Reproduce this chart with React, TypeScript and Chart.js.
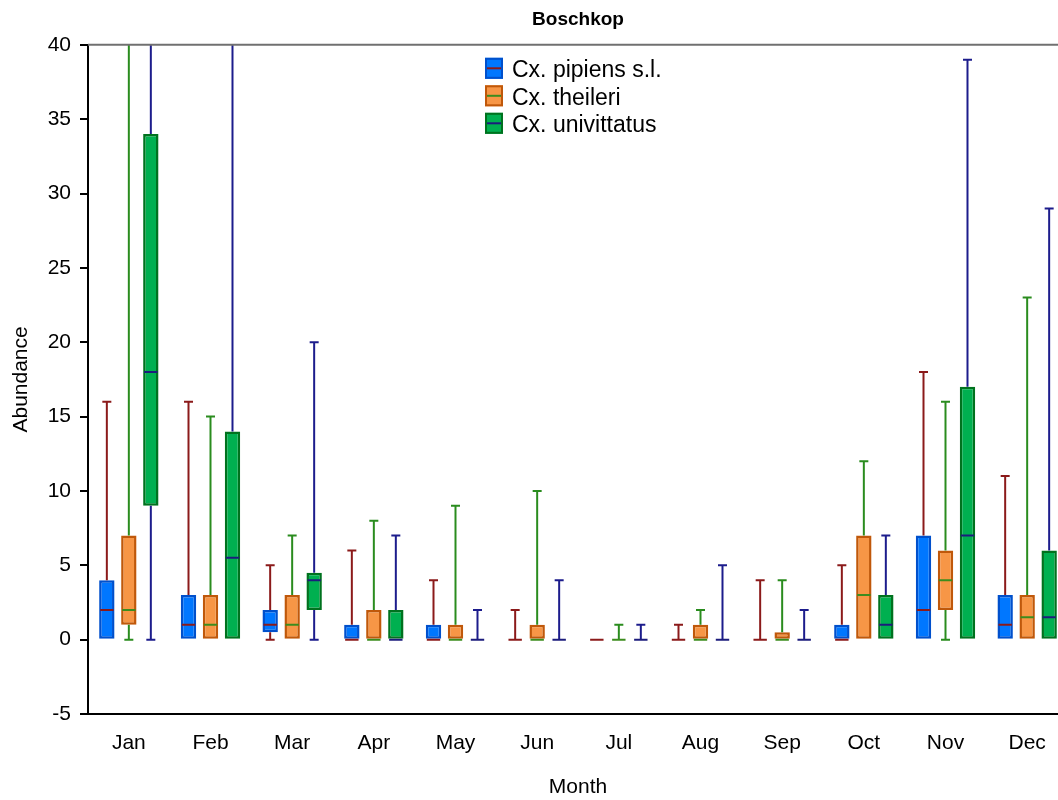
import React, { useEffect, useRef } from "react";
import { Chart, registerables } from "chart.js";

Chart.register(...registerables);

const months = ["Jan", "Feb", "Mar", "Apr", "May", "Jun", "Jul", "Aug", "Sep", "Oct", "Nov", "Dec"];

// Cx. pipiens s.l.
const pipiensMin = [0, 0, 0, 0, 0, 0, 0, 0, 0, 0, 0, 0];
const pipiensQ1 = [0, 0, 0.5, 0, 0, 0, 0, 0, 0, 0, 0, 0];
const pipiensMedian = [2, 1, 1, 0, 0, 0, 0, 0, 0, 0, 2, 1];
const pipiensQ3 = [4, 3, 2, 1, 1, 0, 0, 0, 0, 1, 7, 3];
const pipiensMax = [16, 16, 5, 6, 4, 2, 0, 1, 4, 5, 18, 11];

// Cx. theileri
const theileriMin = [0, 0, 0, 0, 0, 0, 0, 0, 0, 0, 0, 0];
const theileriQ1 = [1, 0, 0, 0, 0, 0, 0, 0, 0, 0, 2, 0];
const theileriMedian = [2, 1, 1, 0, 0, 0, 0, 0, 0, 3, 4, 1.5];
const theileriQ3 = [7, 3, 3, 2, 1, 1, 0, 1, 0.5, 7, 6, 3];
const theileriMax = [44, 15, 7, 8, 9, 10, 1, 2, 4, 12, 16, 23];

// Cx. univittatus
const univittatusMin = [0, 0, 0, 0, 0, 0, 0, 0, 0, 0, 0, 0];
const univittatusQ1 = [9, 0, 2, 0, 0, 0, 0, 0, 0, 0, 0, 0];
const univittatusMedian = [18, 5.5, 4, 0, 0, 0, 0, 0, 0, 1, 7, 1.5];
const univittatusQ3 = [34, 14, 4.5, 2, 0, 0, 0, 0, 0, 3, 17, 6];
const univittatusMax = [58, 46, 20, 7, 2, 4, 1, 5, 2, 7, 39, 29];

const yTicks = [-5, 0, 5, 10, 15, 20, 25, 30, 35, 40];

const FONT = "'Liberation Sans', Arial, sans-serif";

const series = [
  {
    label: "Cx. pipiens s.l.",
    min: pipiensMin, q1: pipiensQ1, median: pipiensMedian, q3: pipiensQ3, max: pipiensMax,
    fill: "#0077ff", border: "#0050cc", whisker: "#8b1a1a", medianColor: "#8b1a1a",
  },
  {
    label: "Cx. theileri",
    min: theileriMin, q1: theileriQ1, median: theileriMedian, q3: theileriQ3, max: theileriMax,
    fill: "#f79646", border: "#c0580a", whisker: "#2a8c1e", medianColor: "#3c8c1e",
  },
  {
    label: "Cx. univittatus",
    min: univittatusMin, q1: univittatusQ1, median: univittatusMedian, q3: univittatusQ3, max: univittatusMax,
    fill: "#00b050", border: "#00721e", whisker: "#1c1c8c", medianColor: "#1c1c7c",
  },
];

const boxExtras = {
  id: "boxExtras",
  afterDatasetsDraw(chart: any) {
    const ctx = chart.ctx;
    const ys = chart.scales.y;
    const area = chart.chartArea;
    ctx.save();
    ctx.beginPath();
    ctx.rect(area.left, area.top, area.right - area.left, area.bottom - area.top);
    ctx.clip();
    series.forEach((s, di) => {
      const meta = chart.getDatasetMeta(di);
      meta.data.forEach((bar: any, i: number) => {
        const x = bar.x;
        const w = bar.width;
        const cap = 4.5;
        ctx.lineWidth = 2;
        ctx.strokeStyle = s.whisker;
        if (s.max[i] > s.q3[i]) {
          const y0 = ys.getPixelForValue(s.q3[i]);
          const y1 = ys.getPixelForValue(s.max[i]);
          ctx.beginPath();
          ctx.moveTo(x, y0);
          ctx.lineTo(x, y1);
          ctx.moveTo(x - cap, y1);
          ctx.lineTo(x + cap, y1);
          ctx.stroke();
        }
        if (s.min[i] < s.q1[i]) {
          const y0 = ys.getPixelForValue(s.q1[i]);
          const y1 = ys.getPixelForValue(s.min[i]);
          ctx.beginPath();
          ctx.moveTo(x, y0);
          ctx.lineTo(x, y1);
          ctx.moveTo(x - cap, y1);
          ctx.lineTo(x + cap, y1);
          ctx.stroke();
        }
        const ym = ys.getPixelForValue(s.median[i]);
        ctx.strokeStyle = s.medianColor;
        ctx.beginPath();
        ctx.moveTo(x - w / 2 + 1, ym);
        ctx.lineTo(x + w / 2 - 1, ym);
        ctx.stroke();
      });
    });
    ctx.restore();

    // top frame line
    ctx.save();
    ctx.strokeStyle = "#707070";
    ctx.lineWidth = 2;
    ctx.beginPath();
    ctx.moveTo(area.left, area.top);
    ctx.lineTo(area.right, area.top);
    ctx.stroke();
    ctx.restore();
  },
  afterDraw(chart: any) {
    const ctx = chart.ctx;
    const area = chart.chartArea;
    const ix = area.left + 397;
    const iy = area.top + 13;
    const rowH = 27.5;
    ctx.save();
    ctx.font = `23px ${FONT}`;
    ctx.textBaseline = "middle";
    ctx.textAlign = "left";
    series.forEach((s, k) => {
      const top = iy + k * rowH;
      ctx.fillStyle = s.fill;
      ctx.fillRect(ix, top, 18, 21);
      ctx.strokeStyle = s.border;
      ctx.lineWidth = 2;
      ctx.strokeRect(ix + 1, top + 1, 16, 19);
      ctx.strokeStyle = s.medianColor;
      ctx.beginPath();
      ctx.moveTo(ix + 2, top + 10.5);
      ctx.lineTo(ix + 16, top + 10.5);
      ctx.stroke();
      ctx.fillStyle = "#000";
      ctx.fillText(s.label, ix + 27, top + 13);
    });
    ctx.restore();
  },
};

export default function App() {
  const ref = useRef<HTMLCanvasElement | null>(null);

  useEffect(() => {
    if (!ref.current) return;
    const chart = new Chart(ref.current, {
      type: "bar",
      data: {
        labels: months,
        datasets: series.map((s) => ({
          label: s.label,
          data: s.q1.map((v, i) => [v, s.q3[i]]),
          backgroundColor: s.fill,
          borderColor: s.border,
          borderWidth: 2.5,
          borderSkipped: false,
          categoryPercentage: 0.808,
          barPercentage: 0.7,
        })),
      } as any,
      options: {
        responsive: false,
        animation: false,
        layout: { padding: { top: 0, right: 10, bottom: 0, left: 0 } },
        plugins: {
          legend: { display: false },
          tooltip: { enabled: false },
          title: {
            display: true,
            text: "Boschkop",
            fullSize: false,
            color: "#000",
            font: { family: FONT, size: 19, weight: "bold" },
            padding: { top: 8, bottom: 14 },
          },
        },
        scales: {
          x: {
            grid: { display: true, drawOnChartArea: false, drawTicks: false },
            border: { display: true, color: "#000", width: 2 },
            ticks: { color: "#000", font: { family: FONT, size: 21 }, padding: 17 },
            title: {
              display: true,
              text: "Month",
              color: "#000",
              font: { family: FONT, size: 21 },
              padding: { top: 0, bottom: 0 },
            },
            afterFit(scale: any) {
              scale.height = 86;
            },
          },
          y: {
            min: -5,
            max: 40,
            afterBuildTicks(scale: any) {
              scale.ticks = yTicks.map((v) => ({ value: v }));
            },
            grid: { display: true, drawOnChartArea: false, drawTicks: true, tickLength: 8, color: "#000", lineWidth: 2 },
            border: { display: true, color: "#000", width: 2 },
            ticks: { color: "#000", font: { family: FONT, size: 21 }, padding: 9 },
            title: {
              display: true,
              text: "Abundance",
              color: "#000",
              font: { family: FONT, size: 21 },
              padding: { top: 9, bottom: 0 },
            },
            afterFit(scale: any) {
              scale.width = 88;
            },
          },
        },
      },
      plugins: [boxExtras],
    } as any);
    return () => chart.destroy();
  }, []);

  return (
    <div style={{ position: "fixed", left: 0, top: 0, width: 1058, height: 800, overflow: "hidden", background: "#fff" }}>
      <canvas ref={ref} width={1078} height={800} style={{ display: "block", width: 1078, height: 800 }} />
    </div>
  );
}
